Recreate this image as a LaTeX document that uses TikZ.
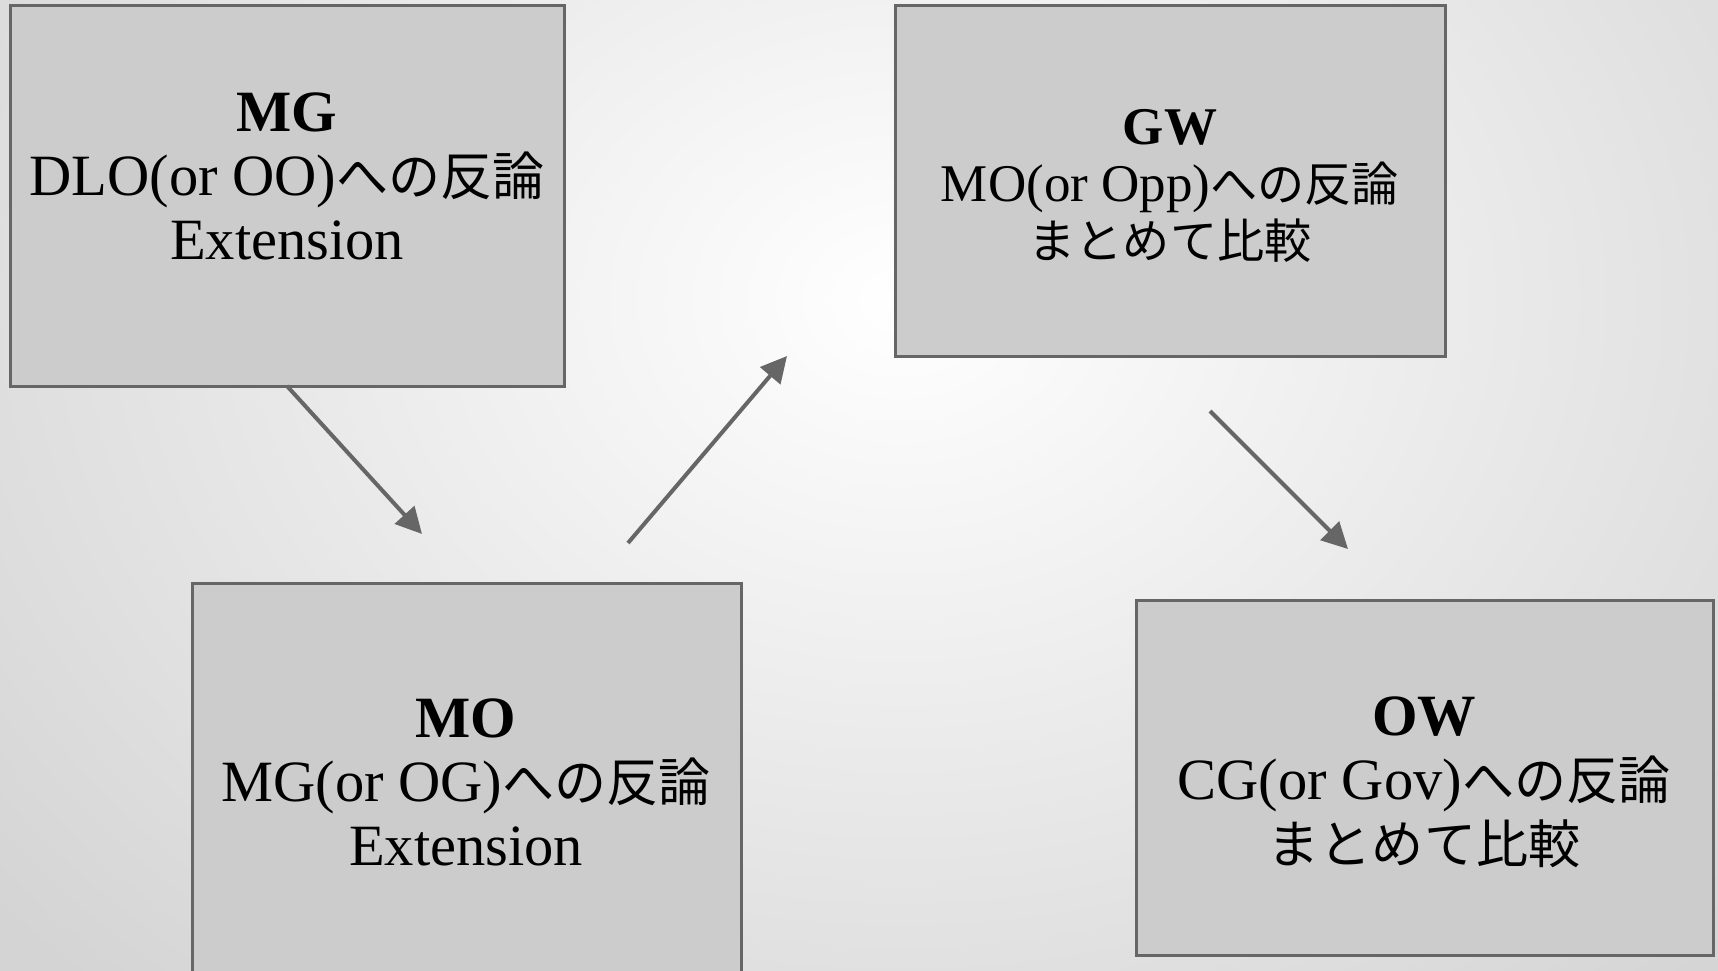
\documentclass[tikz,border=0pt]{standalone}
\usepackage{fontspec}
\setmainfont{Liberation Serif}
\newfontfamily\cjk[Scale=0.89]{Noto Sans CJK JP}
\usetikzlibrary{arrows.meta}
\newcommand{\jp}[1]{{\cjk #1}}
\definecolor{boxfill}{HTML}{CCCCCC}
\definecolor{boxline}{HTML}{666666}
\tikzset{
  panel/.style={draw=boxline, line width=3pt, fill=boxfill},
  paneltext/.style={align=center, font=\fontsize{58.5}{64}\selectfont, inner sep=0pt},
  smalltext/.style={align=center, font=\fontsize{53}{57}\selectfont, inner sep=0pt},
  flow/.style={draw=boxline, line width=4pt, -{Triangle[length=26pt,width=26pt]}}
}
\begin{document}
\begin{tikzpicture}[x=1pt,y=-1pt]
\useasboundingbox (0,0) rectangle (1718,970);
\clip (0,0) rectangle (1718,970);
\shade[inner color=white, outer color=black!17] (-300,-650) rectangle (2100,1250);
% boxes
\path[panel] (10,5) rectangle (564,386);
\coordinate (mgS) at (287,386);
\path[panel] (895,5) rectangle (1445,356);
\path[panel] (192,583) rectangle (741,1010);
\path[panel] (1136,600) rectangle (1713,955);
% texts
\node[paneltext] (mg) at (287,176) {\textbf{MG}\\DLO(or OO)\jp{への反論}\\Extension};
\node[smalltext] (gw) at (1170,186) {\textbf{GW}\\MO(or Opp)\jp{への反論}\\\jp{まとめて比較}};
\node[paneltext] (mo) at (466,782) {\textbf{MO}\\MG(or OG)\jp{への反論}\\Extension};
\node[paneltext] (ow) at (1424,782) {\textbf{OW}\\CG(or Gov)\jp{への反論}\\\jp{まとめて比較}};
% arrows
\coordinate (a1e) at (422,534);
\coordinate (a2s) at (628,543);
\coordinate (a2e) at (787,356);
\coordinate (a3s) at (1210,411);
\coordinate (a3e) at (1348,549);
\draw[flow] (mgS) -- (a1e);
\draw[flow] (a2s) -- (a2e);
\draw[flow] (a3s) -- (a3e);
\end{tikzpicture}
\end{document}
